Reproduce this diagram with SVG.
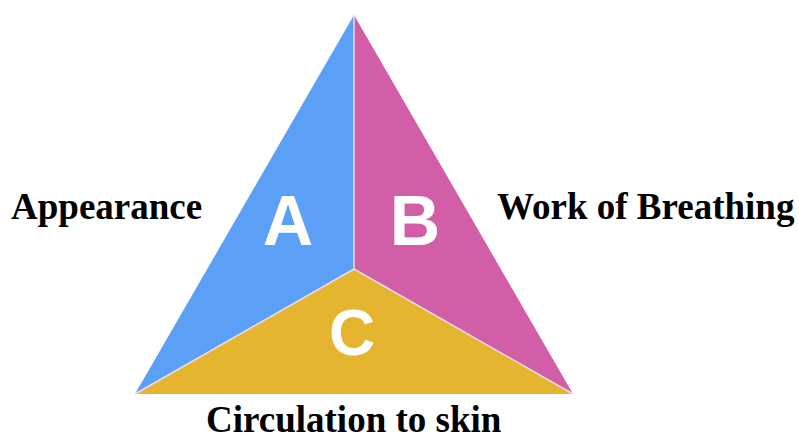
<svg xmlns="http://www.w3.org/2000/svg" width="799" height="439" viewBox="0 0 799 439">
<style>
.lbl{font-family:"Liberation Serif","Times New Roman",serif;font-weight:bold;font-size:37px;fill:#000}
.let{font-family:"Liberation Sans",Arial,sans-serif;font-weight:bold;font-size:70px;fill:#fff;text-anchor:middle}
.div{stroke:#f0dbe8;stroke-width:1.5;fill:none}
</style>
<rect width="799" height="439" fill="#fff"/>
<g id="segA">
<polygon points="354,15 354,269 135,394" fill="#5b9ff7"/>
<text class="let" x="288" y="245">A</text>
</g>
<g id="segB">
<polygon points="354,15 573,394 354,269" fill="#d15ea6"/>
<text class="let" x="415" y="245">B</text>
</g>
<g id="segC">
<polygon points="135,394 354,269 573,394" fill="#e6b52f"/>
<text class="let" x="352" y="355" style="font-size:64px">C</text>
</g>
<g id="dividers">
<line class="div" x1="354" y1="15" x2="354" y2="269"/>
<line class="div" x1="354" y1="269" x2="135" y2="394"/>
<line class="div" x1="354" y1="269" x2="573" y2="394"/>
</g>
<g id="labels">
<text class="lbl" x="11" y="219">Appearance</text>
<text class="lbl" x="497" y="219">Work of Breathing</text>
<text class="lbl" x="206" y="432">Circulation to skin</text>
</g>
</svg>
